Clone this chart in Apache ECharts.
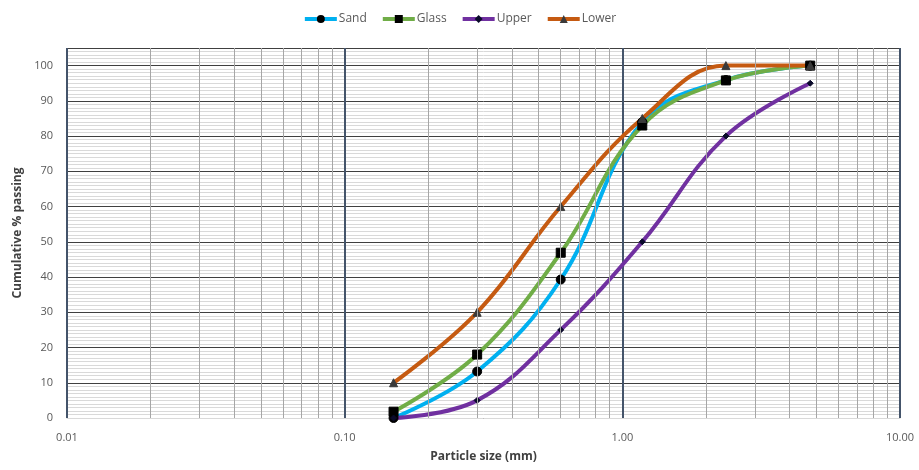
<!DOCTYPE html>
<html>
<head>
<meta charset="utf-8">
<script src="https://cdn.jsdelivr.net/npm/echarts@6/dist/echarts.min.js"></script>
<style>
  html, body { margin: 0; padding: 0; background: #fff; }
  #chart { width: 919px; height: 470px; }
</style>
</head>
<body>
<div id="chart"></div>
<script>
// sieve sizes (mm)
const sizes = [0.15, 0.3, 0.6, 1.18, 2.36, 4.75];
// cumulative % passing
const sand  = [0, 13.2, 39.3, 84, 95.9, 100];
const glass = [1.8, 18, 46.9, 83, 95.8, 100];
const upper = [0, 5, 25, 50, 80, 95];
const lower = [10, 30, 60, 85, 100, 100];
// minor log gridlines
const minorX = [0.02, 0.03, 0.04, 0.05, 0.06, 0.07, 0.08, 0.09,
                0.2, 0.3, 0.4, 0.5, 0.6, 0.7, 0.8, 0.9,
                2, 3, 4, 5, 6, 7, 8, 9];

function pairs(vals) {
    return sizes.map((s, i) => [s, vals[i]]);
}

const chart = echarts.init(document.getElementById('chart'));

function makeSeries(name, vals, color, symbol, symbolSize, symColor) {
    return {
        name: name,
        type: 'line',
        data: pairs(vals),
        smooth: 0.4,
        symbol: symbol,
        symbolSize: symbolSize,
        showAllSymbol: true,
        lineStyle: { color: color, width: 4 },
        itemStyle: { color: symColor, borderColor: symColor },
        emphasis: { disabled: true },
        z: 3
    };
}

const option = {
    animation: false,
    legend: {
        data: ['Sand', 'Glass', 'Upper', 'Lower'],
        top: 8,
        left: 'center',
        itemWidth: 32,
        itemHeight: 10,
        itemGap: 14,
        lineStyle: { width: 4 },
        textStyle: { color: '#595959', fontSize: 12, fontFamily: 'Open Sans', padding: [0, 0, 0, -3] }
    },
    grid: { left: 67, right: 19, top: 48, bottom: 52 },
    xAxis: {
        type: 'log',
        logBase: 10,
        min: 0.01,
        max: 10,
        name: 'Particle size (mm)',
        nameLocation: 'middle',
        nameGap: 33,
        nameTextStyle: { color: '#404040', fontSize: 12, fontWeight: 'bold', fontFamily: 'Open Sans' },
        axisLine: { show: true, lineStyle: { color: '#d9d9d9' } },
        axisTick: { show: false },
        axisLabel: {
            color: '#595959', fontSize: 11, fontFamily: 'Open Sans', margin: 14,
            formatter: v => Number(v).toFixed(2)
        },
        splitLine: { show: true, lineStyle: { color: '#44546a', width: 2 } }
    },
    yAxis: {
        type: 'value',
        min: 0,
        max: 105,
        interval: 10,
        name: 'Cumulative % passing',
        nameLocation: 'middle',
        nameGap: 40,
        nameTextStyle: { color: '#404040', fontSize: 12, fontWeight: 'bold', fontFamily: 'Open Sans' },
        axisLine: { show: false },
        axisTick: { show: false },
        axisLabel: {
            color: '#595959', fontSize: 11, fontFamily: 'Open Sans', margin: 14,
            formatter: v => (v > 100 ? '' : v)
        },
        splitLine: { show: true, lineStyle: { color: '#404040', width: 1 } },
        minorTick: { show: false, splitNumber: 10 },
        minorSplitLine: { show: true, lineStyle: { color: '#d9d9d9', width: 1 } }
    },
    series: [
        {
            name: 'grid',
            type: 'line',
            data: [[0.15, 0]],
            showSymbol: false,
            lineStyle: { opacity: 0 },
            silent: true,
            z: 1,
            markLine: {
                silent: true,
                symbol: ['none', 'none'],
                label: { show: false },
                lineStyle: { color: '#a6a6a6', width: 1, type: 'solid' },
                data: minorX.map(x => ({ xAxis: x }))
            }
        },
        makeSeries('Sand', sand, '#00b0f0', 'circle', 9, '#000000'),
        makeSeries('Glass', glass, '#70ad47', 'rect', 9, '#000000'),
        makeSeries('Upper', upper, '#7030a0', 'diamond', 6, '#0a0a2a'),
        makeSeries('Lower', lower, '#c55a11', 'triangle', 8, '#3a3a3a')
    ]
};

chart.setOption(option);
</script>
</body>
</html>
